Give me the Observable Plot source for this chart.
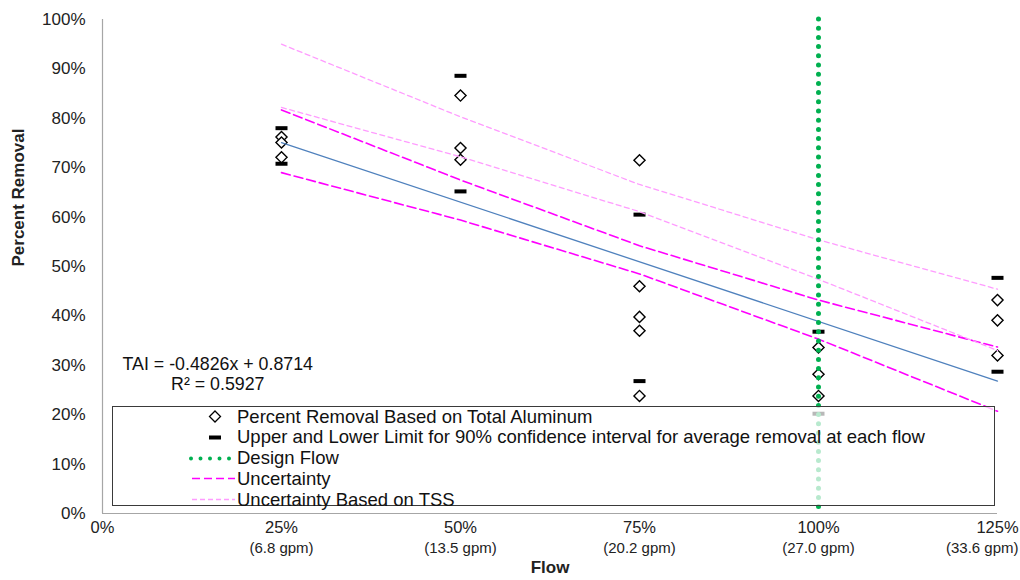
<!DOCTYPE html>
<html><head><meta charset="utf-8">
<script src="https://cdn.jsdelivr.net/npm/d3@7"></script>
<script src="https://cdn.jsdelivr.net/npm/@observablehq/plot@0.6"></script>
<style>
body{margin:0;background:#fff;}
#wrap{position:relative;width:1020px;height:580px;overflow:hidden;}
#legend{position:absolute;left:112px;top:406px;width:881px;height:98px;border:1.5px solid #3a3a3a;background:rgba(255,255,255,0.72);font-family:"Liberation Sans",Arial,sans-serif;font-size:18.5px;color:#111;}
.row{position:absolute;left:0;height:21px;display:flex;align-items:center;white-space:nowrap;}
.row svg{display:block;margin-left:74px;margin-right:2px;}
</style></head><body><div id="wrap"></div>
<script>
const flows = [0.25, 0.5, 0.75, 1.0, 1.25];
const xTicks = [0, 0.25, 0.5, 0.75, 1.0, 1.25];
const xTickPct = ["0%", "25%", "50%", "75%", "100%", "125%"];
const gpmTicks = [0.25, 0.5, 0.75, 1.0, 1.25];
const xTickGpm = ["(6.8 gpm)", "(13.5 gpm)", "(20.2 gpm)", "(27.0 gpm)", "(33.6 gpm)"];
const yTicks = [0, 0.1, 0.2, 0.3, 0.4, 0.5, 0.6, 0.7, 0.8, 0.9, 1.0];

const removalFlow  = [0.25, 0.25, 0.25, 0.5, 0.5, 0.5, 0.75, 0.75, 0.75, 0.75, 0.75, 1.0, 1.0, 1.0, 1.25, 1.25, 1.25];
const removalValue = [0.762, 0.751, 0.721, 0.846, 0.740, 0.716, 0.715, 0.460, 0.398, 0.370, 0.238, 0.336, 0.282, 0.238, 0.432, 0.391, 0.320];

const ciFlow  = [0.25, 0.25, 0.5, 0.5, 0.75, 0.75, 1.0, 1.0, 1.25, 1.25];
const ciValue = [0.780, 0.708, 0.886, 0.652, 0.605, 0.268, 0.368, 0.202, 0.477, 0.287];

const uncUpper = [0.817, 0.675, 0.542, 0.432, 0.337];
const uncLower = [0.690, 0.594, 0.485, 0.353, 0.207];
const tssUpper = [0.950, 0.803, 0.666, 0.554, 0.454];
const tssLower = [0.822, 0.722, 0.611, 0.474, 0.330];

const trendFlow  = [0.25, 1.25];
const trendValue = [0.7508, 0.2682];
const designFlow = [1.0];

const equationLines = ["TAI = -0.4826x + 0.8714", "R² = 0.5927"];
const legendLabels = [
  "Percent Removal Based on Total Aluminum",
  "Upper and Lower Limit for 90% confidence interval for average removal at each flow",
  "Design Flow",
  "Uncertainty",
  "Uncertainty Based on TSS"
];

const pts = removalFlow.map((f, i) => ({flow: f, value: removalValue[i]}));
const ci = ciFlow.map((f, i) => ({flow: f, value: ciValue[i]}));
const band = arr => flows.map((f, i) => ({flow: f, value: arr[i]}));
const trend = trendFlow.map((f, i) => ({flow: f, value: trendValue[i]}));
const gpm = gpmTicks.map((f, i) => ({flow: f, label: xTickGpm[i]}));
const dashSymbol = {draw(ctx) { ctx.rect(-6, -2, 12, 4); }};
const green = "#00b050";

const chart = Plot.plot({
  width: 1020, height: 580,
  marginLeft: 102, marginRight: 23, marginTop: 19, marginBottom: 67,
  style: {fontFamily: "'Liberation Sans', Arial, sans-serif", background: "white", color: "#222"},
  x: {domain: [0, 1.25]},
  y: {domain: [0, 1]},
  marks: [
    Plot.ruleX([0], {stroke: "#a6a6a6", strokeWidth: 1.2}),
    Plot.ruleY([0], {stroke: "#a6a6a6", strokeWidth: 1.2}),
    Plot.axisY({ticks: yTicks, tickSize: 0, tickPadding: 17, tickFormat: d3.format(".0%"), fontSize: 17, label: null}),
    Plot.axisX({ticks: xTicks, tickSize: 0, tickPadding: 8, tickFormat: d => xTickPct[xTicks.indexOf(d)], fontSize: 16.5, label: null}),
    Plot.text(gpm.slice(0, 4), {x: "flow", text: "label", frameAnchor: "bottom", dy: 39, fontSize: 15}),
    Plot.text(gpm.slice(4), {x: "flow", text: "label", frameAnchor: "bottom", dy: 39, dx: 21, textAnchor: "end", fontSize: 15}),
    Plot.text(["Flow"], {frameAnchor: "bottom", dy: 59, fontWeight: "bold", fontSize: 17}),
    Plot.text(["Percent Removal"], {frameAnchor: "left", dx: -84, rotate: -90, fontWeight: "bold", fontSize: 17}),
    Plot.dot(pts, {x: "flow", y: "value", symbol: "diamond2", r: 5, stroke: "#000", strokeWidth: 1.4, fill: "white"}),
    Plot.dot(ci, {x: "flow", y: "value", symbol: dashSymbol, fill: "#000", stroke: "none"}),
    Plot.line(trend, {x: "flow", y: "value", stroke: "#4f81bd", strokeWidth: 1.3}),
    Plot.line(band(uncUpper), {x: "flow", y: "value", stroke: "#ff00ff", strokeWidth: 1.6, strokeDasharray: "9 4"}),
    Plot.line(band(uncLower), {x: "flow", y: "value", stroke: "#ff00ff", strokeWidth: 1.6, strokeDasharray: "9 4"}),
    Plot.line(band(tssUpper), {x: "flow", y: "value", stroke: "#ff9cff", strokeWidth: 1.3, strokeDasharray: "5 3.5"}),
    Plot.line(band(tssLower), {x: "flow", y: "value", stroke: "#ff9cff", strokeWidth: 1.3, strokeDasharray: "5 3.5"}),
    Plot.ruleX(designFlow, {stroke: green, strokeWidth: 5, strokeDasharray: "0 9.2", strokeLinecap: "round"}),
    Plot.text([equationLines.join("\n")], {x: 0.161, y: 0.283, fontSize: 17.8, lineHeight: 1.1, textAnchor: "middle", fill: "#111"})
  ]
});
const wrap = document.getElementById("wrap");
wrap.appendChild(chart);

// legend overlay
const legend = document.createElement("div");
legend.id = "legend";
const symbols = [
  `<polygon points="28,5 33.5,10.5 28,16 22.5,10.5" fill="white" stroke="#000" stroke-width="1.3"/>`,
  `<rect x="22" y="8.5" width="12" height="4" fill="#000"/>`,
  `<line x1="4" x2="46" y1="10.5" y2="10.5" stroke="${green}" stroke-width="4" stroke-dasharray="0 9.5" stroke-linecap="round"/>`,
  `<line x1="5" x2="48" y1="10.5" y2="10.5" stroke="#ff00ff" stroke-width="1.6" stroke-dasharray="8 4"/>`,
  `<line x1="5" x2="48" y1="10.5" y2="10.5" stroke="#ff9cff" stroke-width="1.3" stroke-dasharray="5 3"/>`
];
legendLabels.forEach((lab, i) => {
  const row = document.createElement("div");
  row.className = "row";
  row.style.top = (i * 20.8 - 1) + "px";
  row.innerHTML = `<svg width="48" height="21">${symbols[i]}</svg><span>${lab}</span>`;
  legend.appendChild(row);
});
wrap.appendChild(legend);
</script>
</body></html>
